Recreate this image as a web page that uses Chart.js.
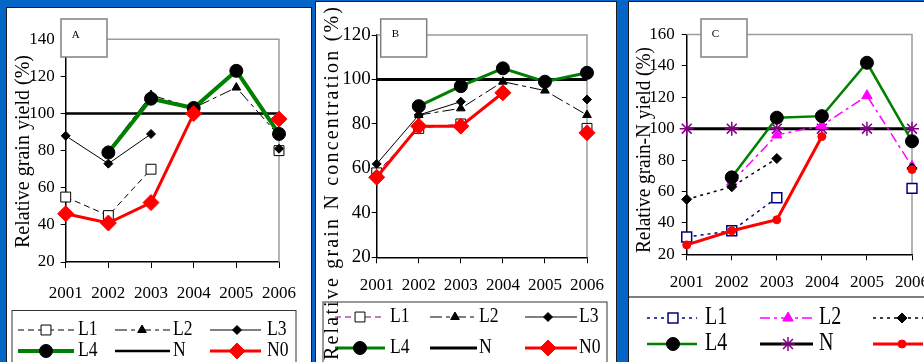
<!DOCTYPE html>
<html>
<head>
<meta charset="utf-8">
<title>Relative grain yield, N concentration and grain-N yield 2001–2006</title>
<script src="https://cdn.jsdelivr.net/npm/chart.js@4.4.1/dist/chart.umd.min.js"></script>
<style>
  html, body { margin: 0; padding: 0; width: 924px; height: 362px; overflow: hidden; background: #0464c8; }
  .panel { position: absolute; background: #fff; border: 1px solid #1b1b1b; overflow: hidden; }
  .panel canvas { position: absolute; left: 0; top: 0; }
</style>
</head>
<body>
<div class="panel" style="left:6px; top:7px; width:304px; height:360px;"><canvas id="chartA" width="304" height="354"></canvas></div>
<div class="panel" style="left:315px; top:1px; width:300px; height:366px;"><canvas id="chartB" width="300" height="360"></canvas></div>
<div class="panel" style="left:628px; top:1px; width:330px; height:366px;"><canvas id="chartC" width="330" height="360"></canvas></div>

<script>
// ---- data -------------------------------------------------------------
const years = ['2001', '2002', '2003', '2004', '2005', '2006'];
const seriesNames = ['L1', 'L2', 'L3', 'L4', 'N', 'N0'];

// A: relative grain yield (%)
const yieldL1 = [55, 45, 70, null, null, 80];
const yieldL2 = [null, 80, 110, 103, 114, 88];
const yieldL3 = [88, 73, 89, null, null, 81];
const yieldL4 = [null, 79, 108, 103, 123, 89];
const yieldN  = [100, 100, 100, 100, 100, 100];
const yieldN0 = [46, 41, 52, 100, null, 97];

// B: relative grain N concentration (%)
const concL1 = [58, 78, 80, null, null, 78];
const concL2 = [null, 84, 87, 99, 95, 84];
const concL3 = [62, 84, 90, null, null, 91];
const concL4 = [null, 88, 97, 105, 99, 103];
const concN  = [100, 100, 100, 100, 100, 100];
const concN0 = [56, 79, 79, 94, null, 76];

// C: relative grain-N yield (%)
const nyieldL1 = [31, 35, 56, null, null, 62];
const nyieldL2 = [null, 66, 96, 102, 121, 76];
const nyieldL3 = [55, 63, 81, null, null, 75];
const nyieldL4 = [null, 69, 107, 108, 142, 92];
const nyieldN  = [100, 100, 100, 100, 100, 100];
const nyieldN0 = [26, 35, 42, 95, null, 74];

// y-axis ranges (ticks every 20)
const yRangeA = [20, 140];
const yRangeB = [20, 120];
const yRangeC = [20, 160];
const yStep = 20;

// ---- styling ----------------------------------------------------------
const SERIF = "'Liberation Serif', 'Times New Roman', serif";

const stylesAB = {
  L1: { borderColor: '#000', borderWidth: 1, borderDash: [6, 4], pointStyle: 'rect', pointRadius: 7,
        pointBackgroundColor: '#fff', pointBorderColor: '#000', pointBorderWidth: 1, order: 5 },
  L2: { borderColor: '#000', borderWidth: 1, borderDash: [12, 4, 4, 4], pointStyle: 'triangle', pointRadius: 5,
        pointBackgroundColor: '#000', pointBorderColor: '#000', pointBorderWidth: 1, order: 4 },
  L3: { borderColor: '#000', borderWidth: 1, pointStyle: 'rectRot', pointRadius: 4.5,
        pointBackgroundColor: '#000', pointBorderColor: '#000', pointBorderWidth: 1, order: 3 },
  L4: { borderColor: '#008000', borderWidth: 4, pointStyle: 'circle', pointRadius: 6.5,
        pointBackgroundColor: '#000', pointBorderColor: '#000', pointBorderWidth: 1, order: 2 },
  N:  { borderColor: '#000', borderWidth: 2.5, pointRadius: 0, order: 6 },
  N0: { borderColor: '#ff0000', borderWidth: 3, pointStyle: 'rectRot', pointRadius: 8,
        pointBackgroundColor: '#ff0000', pointBorderColor: '#ff0000', pointBorderWidth: 1, order: 1 }
};
const stylesB = Object.assign({}, stylesAB, {
  L1: Object.assign({}, stylesAB.L1, { borderColor: '#800080' }),
  L4: Object.assign({}, stylesAB.L4, { borderWidth: 3 }),
  N:  Object.assign({}, stylesAB.N, { borderWidth: 3 })
});
const stylesC = {
  L1: { borderColor: '#000080', borderWidth: 1.5, borderDash: [3, 4], pointStyle: 'rect', pointRadius: 7,
        pointBackgroundColor: '#fff', pointBorderColor: '#000080', pointBorderWidth: 1.5, order: 5 },
  L2: { borderColor: '#ff00ff', borderWidth: 1.5, borderDash: [10, 4, 3, 4], pointStyle: 'triangle', pointRadius: 6,
        pointBackgroundColor: '#ff00ff', pointBorderColor: '#ff00ff', pointBorderWidth: 1, order: 4 },
  L3: { borderColor: '#000', borderWidth: 1.5, borderDash: [3, 4], pointStyle: 'rectRot', pointRadius: 5,
        pointBackgroundColor: '#000', pointBorderColor: '#000', pointBorderWidth: 1, order: 3 },
  L4: { borderColor: '#008000', borderWidth: 2.5, pointStyle: 'circle', pointRadius: 6.5,
        pointBackgroundColor: '#000', pointBorderColor: '#000', pointBorderWidth: 1, order: 2 },
  N:  { borderColor: '#000', borderWidth: 3, pointStyle: 'star', pointRadius: 7,
        pointBackgroundColor: '#800080', pointBorderColor: '#800080', pointBorderWidth: 1.5, order: 6 },
  N0: { borderColor: '#ff0000', borderWidth: 3, pointStyle: 'circle', pointRadius: 4,
        pointBackgroundColor: '#ff0000', pointBorderColor: '#ff0000', pointBorderWidth: 1, order: 1 }
};

function buildDatasets(valueLists, styles) {
  return seriesNames.map((name, i) => Object.assign({
    label: name,
    data: valueLists[i],
    spanGaps: false,
    tension: 0,
    fill: false,
    pointHoverRadius: styles[name].pointRadius
  }, styles[name]));
}

// ---- decorations: frame, panel letter, legend, axis title -------------
function drawLabelText(ctx, text, x, y, font, sx) {
  ctx.save();
  ctx.font = font;
  ctx.fillStyle = '#000';
  ctx.textAlign = 'left';
  ctx.textBaseline = 'middle';
  ctx.translate(x, y);
  ctx.scale(sx, 1);
  ctx.fillText(text, 0, 0);
  ctx.restore();
}

function drawVerticalTitle(ctx, t) {
  ctx.save();
  ctx.font = t.size + 'px ' + SERIF;
  ctx.fillStyle = '#000';
  ctx.translate(t.x, t.y);
  ctx.rotate(-Math.PI / 2);
  ctx.textAlign = 'left';
  ctx.textBaseline = 'middle';
  const w = ctx.measureText(t.text).width;
  if (t.len > w && 'letterSpacing' in ctx) {
    ctx.letterSpacing = ((t.len - w) / (t.text.length - 1)) + 'px';
    ctx.fillText(t.text, -t.len / 2, 0);
  } else {
    const s = t.len / w;
    ctx.scale(s, 1);
    ctx.fillText(t.text, -w / 2, 0);
  }
  ctx.restore();
}

function drawMarker(ctx, d, x, y) {
  if (!(d.pointRadius > 0)) return;
  ctx.save();
  ctx.setLineDash([]);
  ctx.fillStyle = d.pointBackgroundColor;
  ctx.strokeStyle = d.pointBorderColor;
  ctx.lineWidth = d.pointBorderWidth;
  Chart.helpers.drawPoint(ctx, {
    pointStyle: d.pointStyle, radius: d.pointRadius, rotation: 0, borderWidth: d.pointBorderWidth
  }, x, y);
  ctx.restore();
}

function drawLegend(chart, L) {
  const ctx = chart.ctx;
  ctx.save();
  ctx.strokeStyle = L.frameColor;
  ctx.lineWidth = 1;
  if (L.box) {
    ctx.strokeRect(L.box[0] + 0.5, L.box[1] + 0.5, L.box[2], L.box[3]);
  } else if (L.rule) {
    ctx.lineWidth = 1.5;
    ctx.beginPath();
    ctx.moveTo(0, L.rule);
    ctx.lineTo(chart.width, L.rule);
    ctx.stroke();
  }
  chart.data.datasets.forEach((d, i) => {
    const c = L.cols[i % 3];
    const y = L.rows[Math.floor(i / 3)];
    ctx.save();
    ctx.setLineDash(d.borderDash || []);
    ctx.strokeStyle = d.borderColor;
    ctx.lineWidth = d.borderWidth;
    ctx.beginPath();
    ctx.moveTo(c.x0, y);
    ctx.lineTo(c.x1, y);
    ctx.stroke();
    ctx.restore();
    drawMarker(ctx, d, c.mx, y);
    drawLabelText(ctx, d.label, c.tx, y + L.dy, L.font, L.sx);
  });
  ctx.restore();
}

function decorPlugin(deco) {
  return {
    id: 'decor',
    beforeDatasetsDraw(chart) {
      const ctx = chart.ctx, a = chart.chartArea;
      ctx.save();
      ctx.strokeStyle = '#9c9c9c';
      ctx.lineWidth = 1.5;
      ctx.beginPath();
      ctx.moveTo(a.left, a.top);
      ctx.lineTo(a.right, a.top);
      ctx.lineTo(a.right, a.bottom);
      ctx.stroke();
      ctx.restore();
    },
    afterDraw(chart) {
      const ctx = chart.ctx;
      // panel letter box
      const b = deco.letterBox;
      ctx.save();
      ctx.fillStyle = '#fff';
      ctx.fillRect(b[0], b[1], b[2], b[3]);
      ctx.strokeStyle = '#808080';
      ctx.lineWidth = 1.5;
      ctx.strokeRect(b[0], b[1], b[2], b[3]);
      ctx.fillStyle = '#000';
      ctx.font = '11px ' + SERIF;
      ctx.textAlign = 'left';
      ctx.textBaseline = 'alphabetic';
      ctx.fillText(deco.letter, deco.letterPos[0], deco.letterPos[1]);
      ctx.restore();
      drawLegend(chart, deco.legend);
      drawVerticalTitle(ctx, deco.title);
    }
  };
}

function buildChart(id, cfg) {
  const canvas = document.getElementById(id);
  const W = canvas.width, H = canvas.height;
  return new Chart(canvas, {
    type: 'line',
    data: { labels: years, datasets: cfg.datasets },
    options: {
      responsive: false,
      animation: false,
      events: [],
      layout: { padding: { left: 0, top: cfg.area.top, right: W - cfg.area.right, bottom: 0 } },
      plugins: { legend: { display: false }, tooltip: { enabled: false } },
      scales: {
        x: {
          type: 'category',
          offset: false,
          grid: { display: true, drawOnChartArea: false, drawTicks: true, tickLength: 6, color: '#000', lineWidth: 1 },
          border: { display: true, color: '#000', width: 1.5 },
          ticks: { font: { family: SERIF, size: cfg.xFont }, color: '#000', padding: cfg.xPad,
                   maxRotation: 0, autoSkip: false },
          afterFit(s) { s.height = H - cfg.area.bottom; }
        },
        y: {
          type: 'linear',
          min: cfg.yRange[0],
          max: cfg.yRange[1],
          grid: { display: true, drawOnChartArea: false, drawTicks: true, tickLength: 5, color: '#000', lineWidth: 1 },
          border: { display: true, color: '#000', width: 1.5 },
          ticks: { stepSize: yStep, font: { family: SERIF, size: cfg.yFont }, color: '#000', padding: cfg.yPad },
          afterFit(s) { s.width = cfg.area.left; }
        }
      }
    },
    plugins: [decorPlugin(cfg.deco)]
  });
}

// ---- panel A ----------------------------------------------------------
buildChart('chartA', {
  datasets: buildDatasets([yieldL1, yieldL2, yieldL3, yieldL4, yieldN, yieldN0], stylesAB),
  yRange: yRangeA,
  area: { left: 58.7, right: 287, top: 31.3, bottom: 254 },
  xFont: 17, yFont: 17, xPad: 15, yPad: 6,
  deco: {
    letter: 'A', letterBox: [54, 11, 46, 38], letterPos: [64.7, 29.5],
    title: { text: 'Relative grain yield (%)', x: 17, y: 143.5, len: 193, size: 20 },
    legend: {
      box: [4.5, 302, 284, 70], frameColor: '#333',
      rows: [322, 343],
      cols: [ { x0: 11, x1: 67, mx: 39, tx: 71 },
              { x0: 108, x1: 163, mx: 135, tx: 166 },
              { x0: 203, x1: 254, mx: 230, tx: 260 } ],
      font: '22px ' + SERIF, sx: 0.8, dy: -1
    }
  }
});

// ---- panel B ----------------------------------------------------------
buildChart('chartB', {
  datasets: buildDatasets([concL1, concL2, concL3, concL4, concN, concN0], stylesB),
  yRange: yRangeB,
  area: { left: 60.7, right: 285, top: 33, bottom: 255.3 },
  xFont: 17, yFont: 19, xPad: 12, yPad: 1,
  deco: {
    letter: 'B', letterBox: [64.7, 17, 46, 38], letterPos: [75.7, 35],
    title: { text: 'Relative grain N concentration (%)', x: 17, y: 181.5, len: 353, size: 20 },
    legend: {
      box: [6.5, 299.5, 284, 70], frameColor: '#333',
      rows: [315, 346],
      cols: [ { x0: 19, x1: 69, mx: 44, tx: 74 },
              { x0: 114, x1: 161, mx: 139, tx: 163 },
              { x0: 209, x1: 261, mx: 232, tx: 263 } ],
      font: '22px ' + SERIF, sx: 0.8, dy: -1
    }
  }
});

// ---- panel C ----------------------------------------------------------
buildChart('chartC', {
  datasets: buildDatasets([nyieldL1, nyieldL2, nyieldL3, nyieldL4, nyieldN, nyieldN0], stylesC),
  yRange: yRangeC,
  area: { left: 57.7, right: 283, top: 32.5, bottom: 252.3 },
  xFont: 17, yFont: 17, xPad: 12, yPad: 7,
  deco: {
    letter: 'C', letterBox: [72, 17, 46, 38], letterPos: [82.7, 35.3],
    title: { text: 'Relative grain-N yield (%)', x: 16, y: 148, len: 206, size: 20 },
    legend: {
      rule: 295, frameColor: '#555',
      rows: [316, 342],
      cols: [ { x0: 18, x1: 68, mx: 44, tx: 76 },
              { x0: 131, x1: 184, mx: 159, tx: 190 },
              { x0: 244, x1: 294, mx: 273, tx: 301 } ],
      font: '25px ' + SERIF, sx: 0.8, dy: -1
    }
  }
});
</script>
</body>
</html>
